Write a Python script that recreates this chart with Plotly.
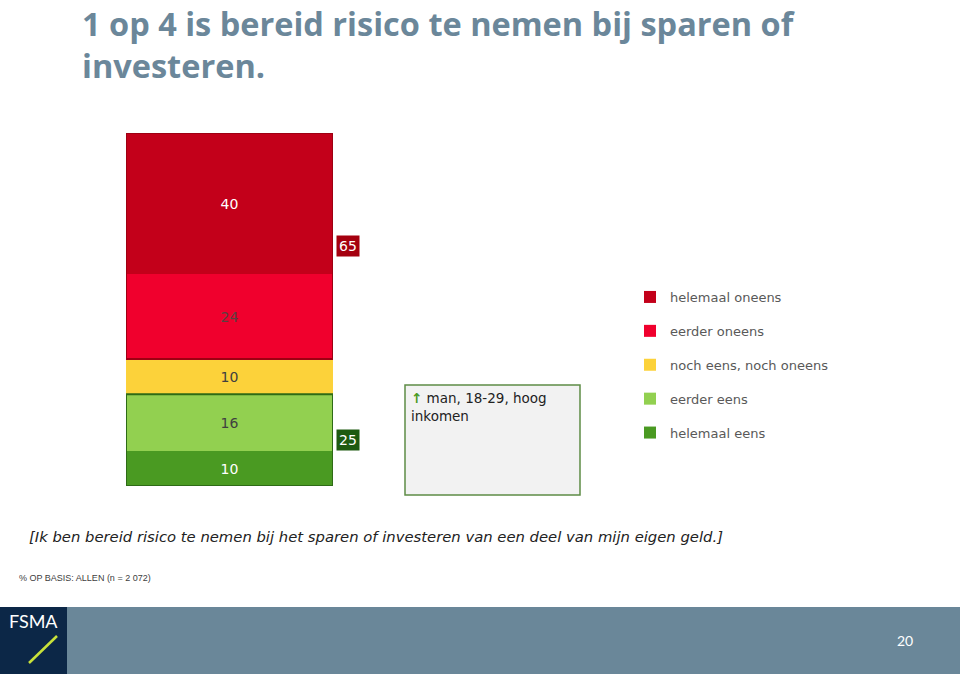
import plotly.graph_objects as go

W, H = 960, 674

# Data (stacked bottom -> top)
categories = ["helemaal eens", "eerder eens", "noch eens, noch oneens", "eerder oneens", "helemaal oneens"]
values = [10, 16, 10, 24, 40]
colors = ["#4A9A22", "#92D050", "#FCD23A", "#F0002D", "#C3001A"]
text_colors = ["#FFFFFF", "#404040", "#404040", "#5a4040", "#FFFFFF"]
agree_total = 25   # eens (rounded)
disagree_total = 65  # oneens (rounded)

title_lines = ["1 op 4 is bereid risico te nemen bij sparen of", "investeren."]
question = "[Ik ben bereid risico te nemen bij het sparen of investeren van een deel van mijn eigen geld.]"
base_note = "% OP BASIS: ALLEN (n = 2 072)"
profile_text = "man, 18-29, hoog<br>inkomen"
page_no = "20"

def px(x):
    return x / W

def py(y):
    return 1 - y / H

fig = go.Figure()
n = len(categories)
for i, (cat, v, c, tc) in enumerate(zip(categories, values, colors, text_colors)):
    fig.add_trace(go.Bar(
        x=[0], y=[v], name=cat, width=1,
        marker=dict(color=c, line=dict(width=0)),
        text=[str(v)], textposition="inside", insidetextanchor="middle",
        textfont=dict(color=tc, size=14, family="DejaVu Sans"),
        legendgroup=cat, legendrank=n - i, showlegend=True,
        hoverinfo="skip",
    ))

cum = [sum(values[:i]) for i in range(len(values) + 1)]
shapes = []
# group outlines from data
shapes.append(dict(type="rect", xref="x", yref="y", x0=-0.5, x1=0.5, y0=cum[3], y1=cum[5],
                   line=dict(color="#9E0012", width=2), fillcolor="rgba(0,0,0,0)", layer="above"))
shapes.append(dict(type="rect", xref="x", yref="y", x0=-0.5, x1=0.5, y0=cum[0], y1=cum[2],
                   line=dict(color="#2E6B16", width=2), fillcolor="rgba(0,0,0,0)", layer="above"))

# profile box
shapes.append(dict(type="rect", xref="paper", yref="paper", x0=px(405), x1=px(580), y0=py(495), y1=py(385),
                   line=dict(color="#5E8C45", width=1.5), fillcolor="#F2F2F2", layer="below"))
# footer band
shapes.append(dict(type="rect", xref="paper", yref="paper", x0=0, x1=1, y0=0, y1=py(607),
                   line=dict(width=0), fillcolor="#6A8799", layer="below"))
shapes.append(dict(type="rect", xref="paper", yref="paper", x0=0, x1=px(67), y0=0, y1=py(607),
                   line=dict(width=0), fillcolor="#0C2747", layer="below"))
shapes.append(dict(type="line", xref="paper", yref="paper", x0=px(29), y0=py(663), x1=px(57), y1=py(636),
                   line=dict(color="#C9E23A", width=2.5), layer="above"))

annotations = []
# totals
annotations.append(dict(x=0.5, y=(cum[3] + cum[5]) / 2, xref="x", yref="y", xanchor="left", yanchor="middle",
                        xshift=3, text=str(disagree_total), showarrow=False, bgcolor="#A5000F",
                        font=dict(color="white", size=14, family="DejaVu Sans"), borderpad=2))
annotations.append(dict(x=0.5, y=(cum[0] + cum[2]) / 2, xref="x", yref="y", xanchor="left", yanchor="middle",
                        xshift=3, text=str(agree_total), showarrow=False, bgcolor="#1E5A10",
                        font=dict(color="white", size=14, family="DejaVu Sans"), borderpad=2))
# title
annotations.append(dict(x=px(81), y=1, xref="paper", yref="paper", xanchor="left", yanchor="top",
                        text="<b>" + "<br>".join(title_lines) + "</b>", align="left", showarrow=False,
                        borderpad=0, font=dict(color="#6B879A", size=32.5, family="Open Sans")))
# profile text
annotations.append(dict(x=px(409), y=py(388), xref="paper", yref="paper", xanchor="left", yanchor="top",
                        text="<span style='color:#4A9A22'><b>↑</b></span> " + profile_text, align="left",
                        showarrow=False, font=dict(color="#222222", size=13.5, family="DejaVu Sans")))
# question
annotations.append(dict(x=px(27), y=py(536), xref="paper", yref="paper", xanchor="left", yanchor="middle",
                        text="<i>" + question + "</i>", showarrow=False,
                        font=dict(color="#222222", size=14.8, family="DejaVu Sans")))
# base note
annotations.append(dict(x=px(17), y=py(578), xref="paper", yref="paper", xanchor="left", yanchor="middle",
                        text=base_note, showarrow=False,
                        font=dict(color="#404040", size=9, family="Liberation Sans")))
# logo text
annotations.append(dict(x=px(33), y=py(621), xref="paper", yref="paper", xanchor="center", yanchor="middle",
                        text="FSMA", showarrow=False, font=dict(color="white", size=18, family="Lato")))
# page number
annotations.append(dict(x=px(905), y=py(640), xref="paper", yref="paper", xanchor="center", yanchor="middle",
                        text=page_no, showarrow=False, font=dict(color="white", size=14, family="Lato")))

fig.update_layout(
    width=W, height=H, margin=dict(l=0, r=0, t=0, b=0),
    paper_bgcolor="white", plot_bgcolor="rgba(0,0,0,0)",
    barmode="stack", bargap=0,
    xaxis=dict(domain=[px(126), px(333)], range=[-0.5, 0.5], visible=False, fixedrange=True),
    yaxis=dict(domain=[py(486), py(133)], range=[0, 100], visible=False, fixedrange=True),
    showlegend=True,
    legend=dict(x=px(630), y=py(282), xanchor="left", yanchor="top", traceorder="grouped",
                tracegroupgap=14, font=dict(color="#595959", size=13, family="DejaVu Sans"),
                itemwidth=30, bgcolor="rgba(0,0,0,0)"),
    shapes=shapes, annotations=annotations,
    uniformtext=dict(minsize=14, mode="show"),
)

fig.write_html("out.html")
